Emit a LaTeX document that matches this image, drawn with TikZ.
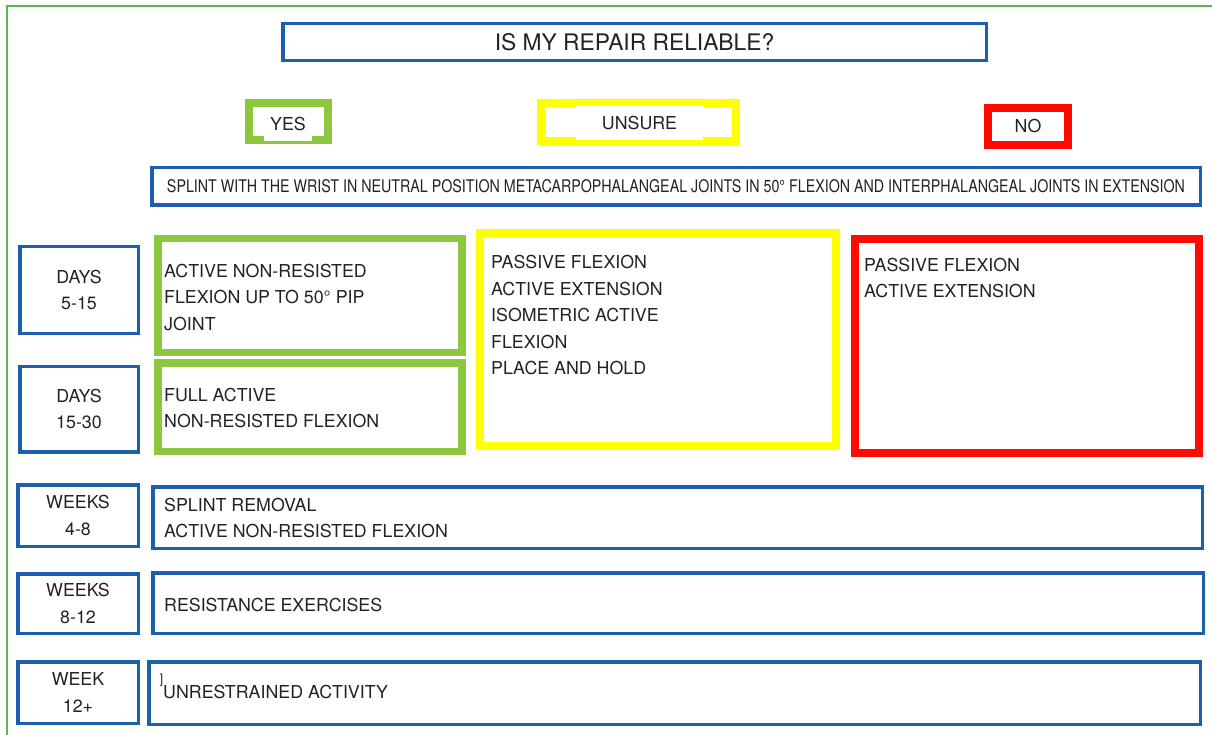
\documentclass[tikz,border=0pt]{standalone}
\usepackage{fontspec}
\setmainfont{TeX Gyre Heros}
\usetikzlibrary{positioning}

\definecolor{planblue}{HTML}{1C5FAF}
\definecolor{yesgreen}{HTML}{8DC63F}
\definecolor{unsureyellow}{HTML}{FFFF00}
\definecolor{nored}{HTML}{FF0A00}
\definecolor{framegreen}{HTML}{5DB84A}
\definecolor{inkgray}{HTML}{222222}

\begin{document}
\begin{tikzpicture}[
        x=1pt, y=-1pt,
        every node/.style={text=inkgray, font=\fontsize{17.8}{26.5}\selectfont},
        plan/.style={rectangle, draw=planblue, line width=3.5pt, align=center, inner sep=0pt},
        answer/.style={rectangle, line width=8pt, inner sep=0pt},
        stage/.style={rectangle, line width=7.5pt, inner sep=0pt},
        tag/.style={rectangle, fill=white, inner sep=0pt},
        item/.style={align=left, inner sep=0pt, anchor=west}
    ]
        \useasboundingbox (0,0) rectangle (1212,735);
        \draw[framegreen, line width=2pt] (6.5,6.5) rectangle (1240,760);

        % Question
        \node[plan, minimum width=703.5pt, minimum height=37pt, font=\fontsize{22.8}{26}\selectfont] (question) at (634.5,42) {IS MY REPAIR RELIABLE?};

        % Answers
        \node[answer, draw=yesgreen, minimum width=79pt, minimum height=37pt] (yes) at (288.5,121.5) {};
        \node[tag, minimum width=48pt, minimum height=34pt] (yes_tag) at (288,124) {YES};
        \node[answer, draw=unsureyellow, minimum width=195.5pt, minimum height=38.5pt] (unsure) at (638.5,122) {};
        \node[tag, minimum width=127pt, minimum height=34pt] (unsure_tag) at (639.5,123) {UNSURE};
        \node[answer, draw=nored, minimum width=80pt, minimum height=37pt] (no) at (1028,126.5) {NO};

        % Splint
        \node[plan, minimum width=1048.5pt, minimum height=37.5pt] (splint) at (676,186.5)
            {\resizebox{1018pt}{13pt}{SPLINT WITH THE WRIST IN NEUTRAL POSITION METACARPOPHALANGEAL JOINTS IN 50° FLEXION AND INTERPHALANGEAL JOINTS IN EXTENSION}};

        % Periods
        \node[plan, minimum width=118.5pt, minimum height=86.5pt] (days_a) at (79,290) {DAYS\\5-15};
        \node[plan, minimum width=118.5pt, minimum height=85.5pt] (days_b) at (79,409) {DAYS\\15-30};
        \node[plan, minimum width=120.5pt, minimum height=61.5pt] (weeks_a) at (78,515.5) {WEEKS\\4-8};
        \node[plan, minimum width=120.5pt, minimum height=59.5pt] (weeks_b) at (78,603.5) {WEEKS\\8-12};
        \node[plan, minimum width=120.5pt, minimum height=61.5pt] (weeks_c) at (78,692.5) {WEEK\\12+};

        % Early stage boxes
        \node[stage, draw=yesgreen, minimum width=304pt, minimum height=113.5pt] (yes_a) at (310,295.5) {};
        \node[stage, draw=yesgreen, minimum width=304pt, minimum height=88.5pt] (yes_b) at (310,407) {};
        \node[stage, draw=unsureyellow, minimum width=356pt, minimum height=213pt] (unsure_ab) at (658,339.5) {};
        \node[stage, draw=nored, minimum width=344pt, minimum height=214pt] (no_ab) at (1027,346) {};

        % Later rows
        \node[plan, minimum width=1049.5pt, minimum height=61.5pt] (row_a) at (677.5,517.5) {};
        \node[plan, minimum width=1050.5pt, minimum height=60.5pt] (row_b) at (678,603) {};
        \node[plan, minimum width=1051.5pt, minimum height=62.5pt] (row_c) at (674.5,693) {};

        % Box texts
        \node[item] (yes_a_text) at (164,297.5) {ACTIVE NON-RESISTED\\FLEXION UP TO 50° PIP\\JOINT};
        \node[item] (yes_b_text) at (164,408) {FULL ACTIVE\\NON-RESISTED FLEXION};
        \node[item] (unsure_text) at (491,315.5) {PASSIVE FLEXION\\ACTIVE EXTENSION\\ISOMETRIC ACTIVE\\FLEXION\\PLACE AND HOLD};
        \node[item] (no_text) at (864,278) {PASSIVE FLEXION\\ACTIVE EXTENSION};
        \node[item] (row_a_text) at (164,518) {SPLINT REMOVAL\\ACTIVE NON-RESISTED FLEXION};
        \node[item] (row_b_text) at (164,605) {RESISTANCE EXERCISES};
        \node[item] (row_c_text) at (163,692) {UNRESTRAINED ACTIVITY};
        \node[font=\fontsize{13}{14}\selectfont, inner sep=0pt] (row_c_mark) at (161.5,680) {]};

    \end{tikzpicture}
\end{document}
